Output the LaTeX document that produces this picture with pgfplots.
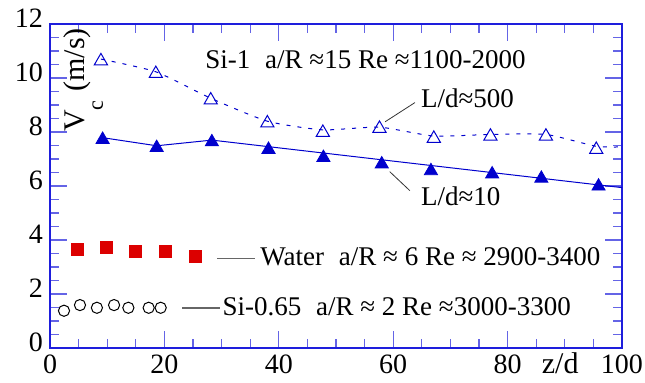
\documentclass[border=0pt]{standalone}
\usepackage{fontspec}
\setmainfont{Liberation Serif}
\usepackage{pgfplots}
\pgfplotsset{compat=1.18}
\definecolor{spine}{RGB}{30,30,220}
\definecolor{tk}{RGB}{100,100,230}
\definecolor{mblue}{RGB}{0,0,205}
\definecolor{mred}{RGB}{220,0,0}
\newcommand{\tfont}{\fontsize{13.5}{16}\selectfont}
\begin{document}
\begin{tikzpicture}
\begin{axis}[
  at={(0,0)}, anchor=south west,
  scale only axis, width=286pt, height=162pt,
  xmin=0, xmax=100, ymin=0, ymax=12,
  xtick={0,20,...,100}, minor x tick num=3,
  ytick={0,2,...,12}, minor y tick num=3,
  tick align=inside,
  major tick length=8.5pt, minor tick length=4.5pt,
  axis line style={spine, line width=0.8pt},
  every tick/.style={tk, line width=0.6pt},
  ticklabel style={font=\fontsize{14}{16}\selectfont},
  /pgf/number format/assume math mode=true,
  yticklabel style={yshift=3pt},
  clip=false,
]
% L/d=500 dashed curve
\addplot[mblue, line width=0.5pt, dash pattern=on 2pt off 3.5pt, smooth, tension=0.35, no marks] coordinates {
(8.9,10.7)(18.5,10.23)(28.1,9.25)(38.0,8.4)(47.7,8.08)(57.6,8.18)(67.1,7.85)(77.0,7.91)(86.7,7.91)(95.5,7.47)(100,7.45)};
\addplot[only marks, mark=triangle, mark size=3.8pt, mark options={mblue, line width=0.5pt, fill=white}] coordinates {
(8.9,10.63)(18.5,10.16)(28.1,9.18)(38.0,8.33)(47.7,7.98)(57.6,8.13)(67.1,7.76)(77.0,7.84)(86.7,7.84)(95.5,7.35)};
% L/d=10 solid
\addplot[mblue, line width=0.5pt, no marks] coordinates {
(9.2,7.79)(18.65,7.49)(28.3,7.70)(100,5.94)};
\addplot[only marks, mark=triangle*, mark size=3.8pt, mark options={mblue, fill=mblue}] coordinates {
(9.2,7.72)(18.65,7.42)(28.3,7.63)(38.2,7.35)(47.8,7.05)(58.0,6.81)(66.6,6.56)(77.3,6.44)(85.9,6.28)(95.9,5.99)};
% Water
\addplot[only marks, mark=square*, mark size=3pt, mark options={mred, fill=mred}] coordinates {
(4.72,3.65)(9.9,3.71)(14.97,3.59)(20.2,3.59)(25.4,3.39)};
% Si-0.65
\addplot[only marks, mark=o, mark size=2.8pt, mark options={black, line width=0.5pt}] coordinates {
(2.45,1.38)(5.24,1.59)(8.2,1.49)(11.2,1.59)(13.7,1.49)(17.25,1.49)(19.35,1.49)};
% legend lines and pointers
\addplot[black!60, line width=0.6pt, no marks] coordinates {(29.2,3.32)(35.8,3.32)};
\addplot[black!60, line width=0.6pt, no marks] coordinates {(23.1,1.48)(29.7,1.48)};
\addplot[black!80, line width=0.4pt, no marks] coordinates {(58.6,8.38)(63.8,9.09)};
\addplot[black!80, line width=0.4pt, no marks] coordinates {(59.4,6.53)(62.9,5.83)};
% texts
\node[anchor=base west, inner sep=0pt, font=\tfont] at (axis cs:27.1,10.37) {Si-1\hspace{0.55em}a/R ≈15 Re ≈1100-2000};
\node[anchor=base west, inner sep=0pt, font=\tfont] at (axis cs:64.8,8.89) {L/d≈500};
\node[anchor=base west, inner sep=0pt, font=\tfont] at (axis cs:64.8,5.26) {L/d≈10};
\node[anchor=base west, inner sep=0pt, font=\tfont] at (axis cs:36.7,3.07) {Water\hspace{0.55em}a/R ≈ 6 Re ≈ 2900-3400};
\node[anchor=base west, inner sep=0pt, font=\tfont] at (axis cs:30.1,1.22) {Si-0.65\hspace{0.55em}a/R ≈ 2 Re ≈3000-3300};
\node[anchor=base, inner sep=0pt, rotate=90, font=\fontsize{15}{17}\selectfont] at (axis cs:6.1,9.93) {V\raisebox{-9pt}{\fontsize{11}{12}\selectfont c}\hspace{0.3em}(m/s)};
\node[anchor=base, inner sep=0pt, font=\fontsize{15}{17}\selectfont] at (axis cs:89.2,0) [yshift=-12.5pt] {z/d};
\end{axis}
\pgfresetboundingbox
\path[use as bounding box] (-25pt,-17pt) rectangle (297.5pt,174pt);
\end{tikzpicture}
\end{document}
